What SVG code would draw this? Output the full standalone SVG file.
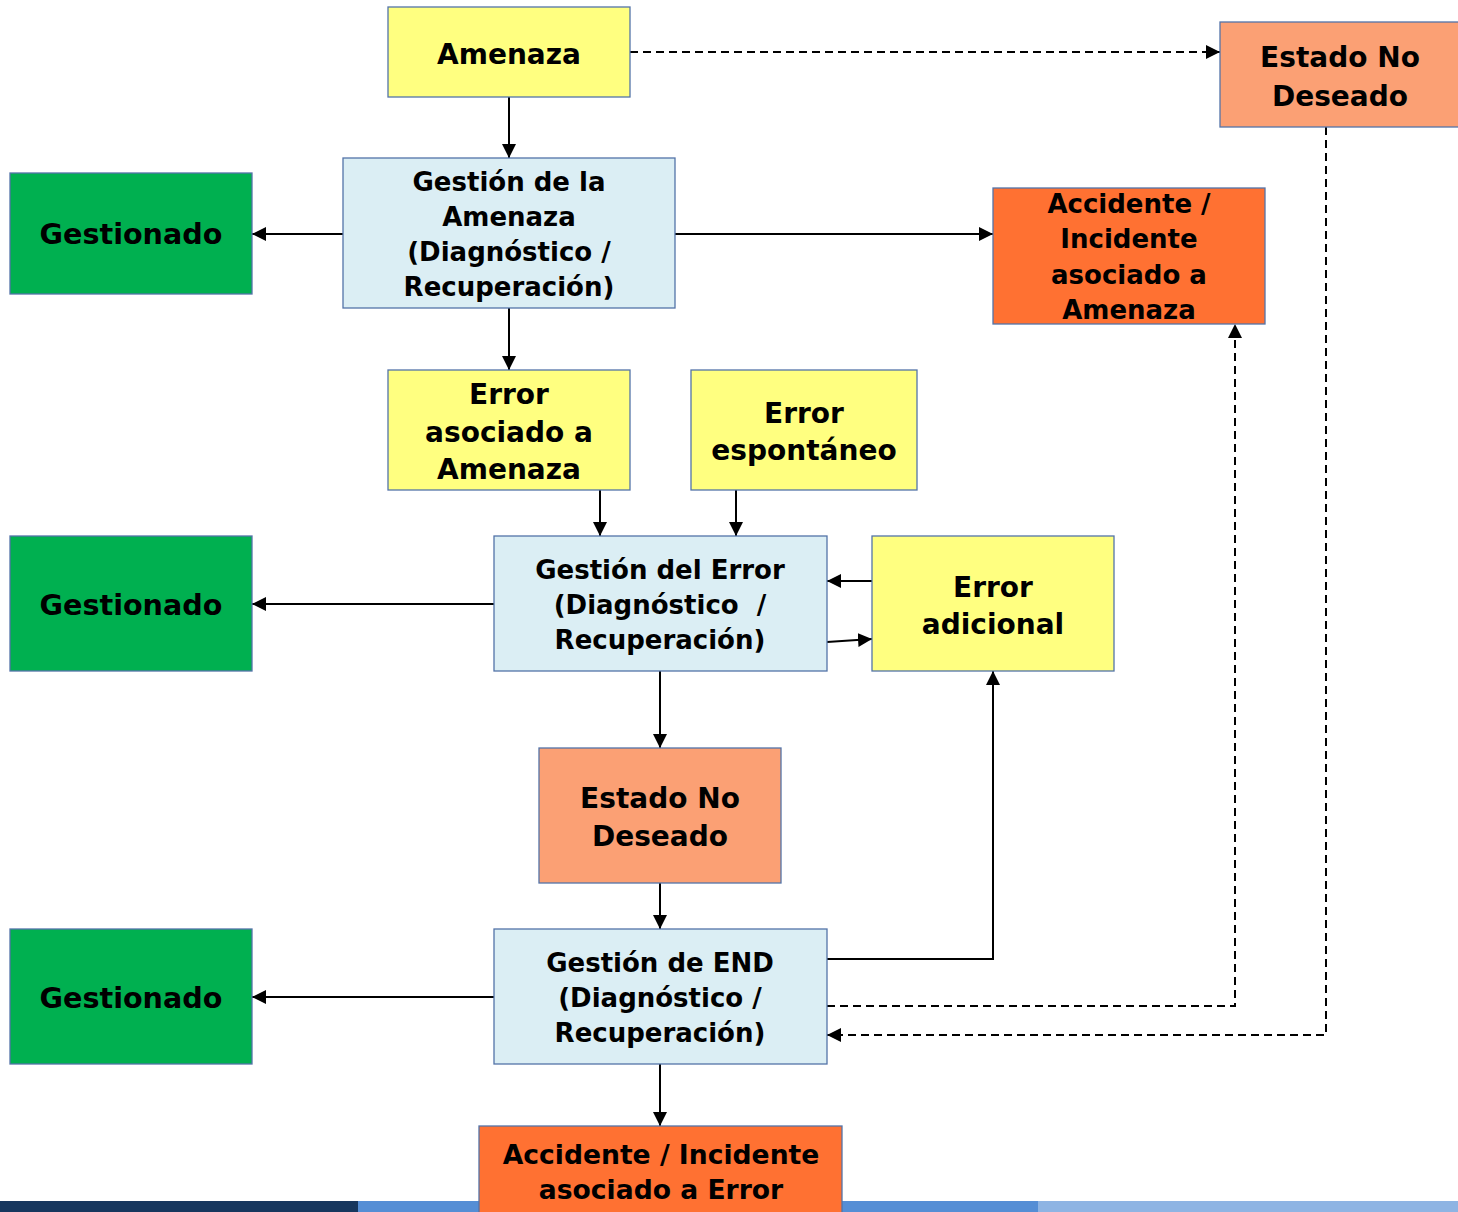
<svg xmlns="http://www.w3.org/2000/svg" width="1458" height="1212" viewBox="0 0 1458 1212">
<style>
.box{stroke:#5373A8;stroke-width:1.3}
.y{fill:#FFFF80}.b{fill:#DBEEF4}.g{fill:#00B050}.s{fill:#FBA074}.o{fill:#FF7132}
text{font-family:"DejaVu Sans","Verdana",sans-serif;font-weight:bold;fill:#000;text-anchor:middle}
.t28{font-size:28px}.t26{font-size:26px}.t29{font-size:28.6px}.t265{font-size:26.6px}
.c{fill:none;stroke:#000;stroke-width:2}
.d{fill:none;stroke:#000;stroke-width:2;stroke-dasharray:8 5}
</style>
<defs>
<marker id="ah" viewBox="0 0 14 14" refX="14" refY="7" markerWidth="14" markerHeight="14" markerUnits="userSpaceOnUse" orient="auto">
<path d="M0,0 L14,7 L0,14 Z" fill="#000"/>
</marker>
</defs>
<g id="bar">
<rect x="0" y="1201" width="358" height="11" fill="#17375E"/>
<rect x="358" y="1201" width="680" height="11" fill="#558ED5"/>
<rect x="1038" y="1201" width="420" height="11" fill="#8EB4E3"/>
</g>
<g id="connectors">
<path class="c" d="M509,97 V158" marker-end="url(#ah)"/>
<path class="d" d="M630,52 H1220" marker-end="url(#ah)"/>
<path class="c" d="M343,234 H252" marker-end="url(#ah)"/>
<path class="c" d="M675,234 H993" marker-end="url(#ah)"/>
<path class="c" d="M509,308 V370" marker-end="url(#ah)"/>
<path class="c" d="M600,490 V536" marker-end="url(#ah)"/>
<path class="c" d="M736,490 V536" marker-end="url(#ah)"/>
<path class="c" d="M494,604 H252" marker-end="url(#ah)"/>
<path class="c" d="M872,581 H827" marker-end="url(#ah)"/>
<path class="c" d="M827,642 L872,639" marker-end="url(#ah)"/>
<path class="c" d="M660,671 V748" marker-end="url(#ah)"/>
<path class="c" d="M660,883 V929" marker-end="url(#ah)"/>
<path class="c" d="M494,997 H252" marker-end="url(#ah)"/>
<path class="c" d="M827,959 H993 V671" marker-end="url(#ah)"/>
<path class="d" d="M827,1006 H1235 V324" marker-end="url(#ah)"/>
<path class="d" d="M1326,127 V1035 H827" marker-end="url(#ah)"/>
<path class="c" d="M660,1064 V1126" marker-end="url(#ah)"/>
</g>
<g id="amenaza">
<rect class="box y" x="388" y="7" width="242" height="90"/>
<text class="t28" x="509" y="64">Amenaza</text>
</g>
<g id="estado-no-deseado-top">
<rect class="box s" x="1220" y="22" width="240" height="105"/>
<text class="t28" x="1340" y="67">Estado No</text>
<text class="t28" x="1340" y="106">Deseado</text>
</g>
<g id="gestion-amenaza">
<rect class="box b" x="343" y="158" width="332" height="150"/>
<text class="t26" x="509" y="191">Gestión de la</text>
<text class="t26" x="509" y="226">Amenaza</text>
<text class="t26" x="509" y="261">(Diagnóstico /</text>
<text class="t26" x="509" y="296">Recuperación)</text>
</g>
<g id="gestionado-1">
<rect class="box g" x="10" y="173" width="242" height="121"/>
<text class="t29" x="131" y="244">Gestionado</text>
</g>
<g id="accidente-amenaza">
<rect class="box o" x="993" y="188" width="272" height="136"/>
<text class="t26" x="1129" y="213">Accidente /</text>
<text class="t26" x="1129" y="248">Incidente</text>
<text class="t26" x="1129" y="284">asociado a</text>
<text class="t26" x="1129" y="319">Amenaza</text>
</g>
<g id="error-asociado">
<rect class="box y" x="388" y="370" width="242" height="120"/>
<text class="t28" x="509" y="404">Error</text>
<text class="t28" x="509" y="442">asociado a</text>
<text class="t28" x="509" y="479">Amenaza</text>
</g>
<g id="error-espontaneo">
<rect class="box y" x="691" y="370" width="226" height="120"/>
<text class="t28" x="804" y="423">Error</text>
<text class="t28" x="804" y="460">espontáneo</text>
</g>
<g id="gestion-error">
<rect class="box b" x="494" y="536" width="333" height="135"/>
<text class="t26" x="660" y="579">Gestión del Error</text>
<text class="t26" x="660" y="614" xml:space="preserve">(Diagnóstico  /</text>
<text class="t26" x="660" y="649">Recuperación)</text>
</g>
<g id="error-adicional">
<rect class="box y" x="872" y="536" width="242" height="135"/>
<text class="t28" x="993" y="597">Error</text>
<text class="t28" x="993" y="634">adicional</text>
</g>
<g id="gestionado-2">
<rect class="box g" x="10" y="536" width="242" height="135"/>
<text class="t29" x="131" y="615">Gestionado</text>
</g>
<g id="estado-no-deseado-mid">
<rect class="box s" x="539" y="748" width="242" height="135"/>
<text class="t28" x="660" y="808">Estado No</text>
<text class="t28" x="660" y="846">Deseado</text>
</g>
<g id="gestion-end">
<rect class="box b" x="494" y="929" width="333" height="135"/>
<text class="t26" x="660" y="972">Gestión de END</text>
<text class="t26" x="660" y="1007">(Diagnóstico /</text>
<text class="t26" x="660" y="1042">Recuperación)</text>
</g>
<g id="gestionado-3">
<rect class="box g" x="10" y="929" width="242" height="135"/>
<text class="t29" x="131" y="1008">Gestionado</text>
</g>
<g id="accidente-error">
<rect class="box o" x="479" y="1126" width="363" height="90"/>
<text class="t265" x="661" y="1164">Accidente / Incidente</text>
<text class="t265" x="661" y="1199">asociado a Error</text>
</g>
</svg>
